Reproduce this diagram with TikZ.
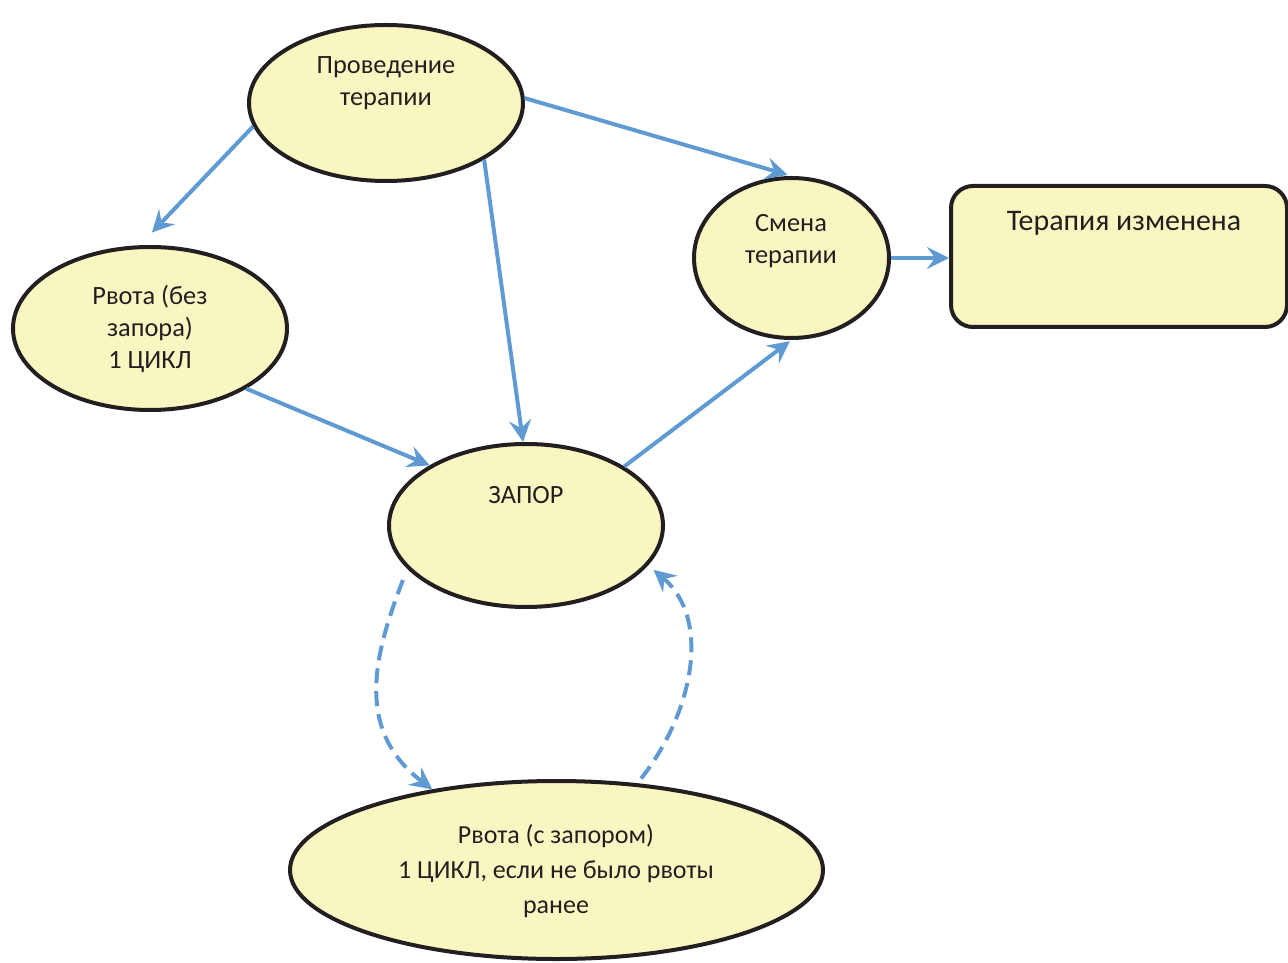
\documentclass[tikz,border=0pt]{standalone}
\usepackage{fontspec}
\setmainfont{Carlito}
\usetikzlibrary{arrows.meta,shapes.geometric}
\definecolor{arrowblue}{RGB}{95,155,210}
\definecolor{paleyellow}{RGB}{248,247,193}
\definecolor{darkline}{RGB}{35,31,32}
\tikzset{
  blob/.style={ellipse, draw=darkline, line width=0.8mm, fill=paleyellow, inner sep=0pt},
  boxnode/.style={rectangle, rounded corners=4.4mm, draw=darkline, line width=0.8mm, fill=paleyellow, inner sep=0pt},
  txt/.style={align=center, text=darkline, font=\fontsize{15pt}{18pt}\selectfont, inner sep=0pt},
  conn/.style={draw=arrowblue, line width=0.8mm, -{Stealth[length=4.4mm, width=4.4mm, inset=1.6mm]}},
  dashconn/.style={conn, dash pattern=on 3mm off 1.6mm}
}
\begin{document}
\begin{tikzpicture}[x=0.2mm, y=-0.2mm]
\useasboundingbox (0,0) rectangle (1288,963);
% shapes
\node[blob, minimum width=54.8mm, minimum height=31.2mm] (A) at (386,103) {};
\node[blob, minimum width=54.8mm, minimum height=32.6mm] (B) at (150,328.5) {};
\node[blob, minimum width=39mm, minimum height=32mm] (C) at (791.5,258) {};
\node[boxnode, minimum width=67.2mm, minimum height=28.2mm] (D) at (1119,256.5) {};
\node[blob, minimum width=54.8mm, minimum height=32.6mm] (E) at (526,525.5) {};
\node[blob, minimum width=106.6mm, minimum height=35.6mm] (F) at (556.5,870) {};
% texts
\node[txt] (tA) at (386,83) {Проведение\\терапии};
\node[txt] (tB) at (150,329) {Рвота (без\\запора)\\1 ЦИКЛ};
\node[txt] (tC) at (791,241) {Смена\\терапии};
\node[txt, font=\fontsize{17pt}{20pt}\selectfont] (tD) at (1124,223) {Терапия изменена};
\node[txt] (tE) at (526,495) {ЗАПОР};
\node[txt, font=\fontsize{14.8pt}{19.8pt}\selectfont] (tF) at (556,871) {Рвота (с запором)\\1 ЦИКЛ, если не было рвоты\\ранее};
% connectors
\draw[conn, shorten >=3.5mm] (A.190) -- (B.97);
\draw[conn] (A.-30) -- (E.92);
\draw[conn, shorten >=0.8mm] (A.2) -- (C.north);
\draw[conn] (B.-32) -- (E.148);
\draw[conn, shorten >=0.4mm] (E.31) -- (C.south);
\draw[conn] (C.east) -- (D.west |- C.east);
\draw[dashconn, shorten <=2.4mm] (E.200) .. controls +(-29,77) and +(-82,-62) .. (F.147);
\draw[dashconn, shorten <=1.2mm, shorten >=1.4mm] (F.47) .. controls +(55,-70) and +(64,55) .. (E.-18);
\end{tikzpicture}
\end{document}
